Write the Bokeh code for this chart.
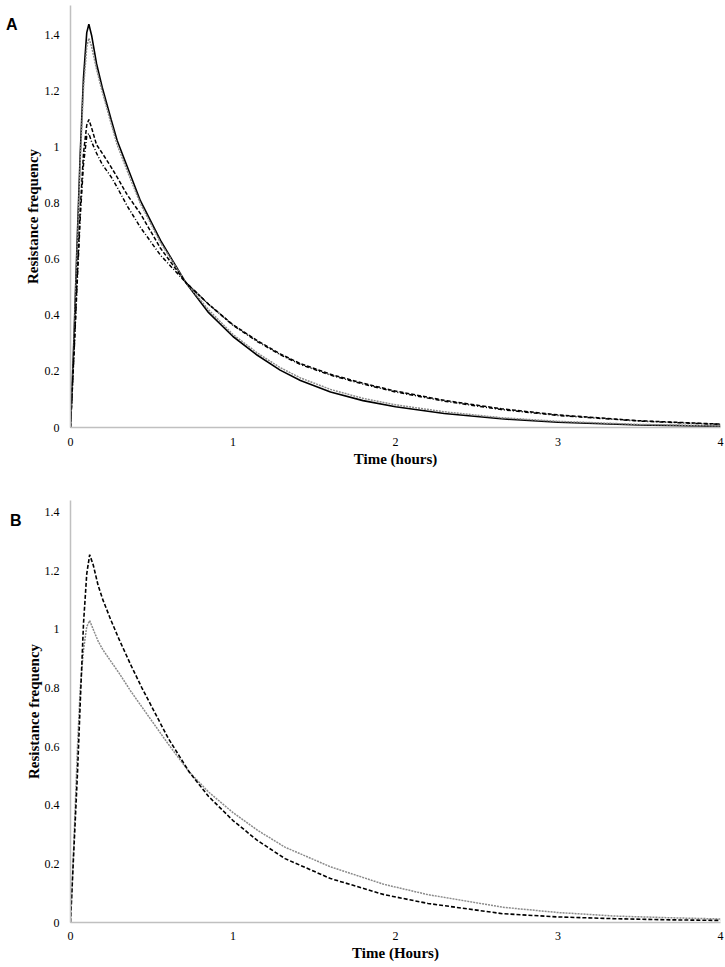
from bokeh.plotting import figure
from bokeh.models import Range1d, FixedTicker, CustomJSTickFormatter, LinearAxis
from bokeh.layouts import column
from bokeh.embed import file_html
from bokeh.resources import INLINE

# ---- data ----
x_ticks = [0, 1, 2, 3, 4]
y_ticks = [0, 0.2, 0.4, 0.6, 0.8, 1.0, 1.2, 1.4]
panel_letters = ["A", "B"]
panel_letter_y = [1.44, 1.372]

tA = [0, 0.02, 0.04, 0.06, 0.08, 0.1, 0.113, 0.13, 0.16, 0.195, 0.25, 0.287, 0.35, 0.43,
      0.554, 0.708, 0.85, 1.0, 1.15, 1.29, 1.415, 1.6, 1.8, 2.0, 2.3, 2.65, 3.0, 3.5, 4.0]
a_solid = [0, 0.30, 0.65, 0.98, 1.25, 1.41, 1.44, 1.40, 1.30, 1.215, 1.10, 1.025, 0.93, 0.81,
           0.668, 0.519, 0.41, 0.325, 0.258, 0.205, 0.168, 0.127, 0.096, 0.074, 0.05, 0.031, 0.019, 0.009, 0.004]
a_gray = [0, 0.28, 0.62, 0.95, 1.21, 1.36, 1.39, 1.36, 1.28, 1.20, 1.085, 1.01, 0.915, 0.80,
          0.66, 0.519, 0.42, 0.332, 0.266, 0.214, 0.177, 0.136, 0.104, 0.081, 0.056, 0.035, 0.022, 0.011, 0.006]
a_dash = [0, 0.25, 0.52, 0.78, 0.98, 1.08, 1.10, 1.07, 1.01, 0.98, 0.93, 0.894, 0.83, 0.764,
          0.64, 0.519, 0.44, 0.367, 0.31, 0.263, 0.228, 0.19, 0.158, 0.13, 0.097, 0.067, 0.045, 0.024, 0.012]
a_dashdot = [0, 0.24, 0.50, 0.75, 0.94, 1.04, 1.05, 1.02, 0.98, 0.94, 0.895, 0.858, 0.79, 0.715,
             0.615, 0.519, 0.44, 0.365, 0.307, 0.26, 0.225, 0.187, 0.155, 0.127, 0.094, 0.064, 0.043, 0.023, 0.011]

tB = [0, 0.02, 0.043, 0.06, 0.08, 0.1, 0.118, 0.14, 0.17, 0.2, 0.25, 0.3, 0.37, 0.44,
      0.6, 0.73, 0.85, 1.0, 1.15, 1.32, 1.6, 1.93, 2.2, 2.66, 3.0, 3.35, 3.7, 4.0]
b_dash = [0, 0.24, 0.51, 0.75, 1.02, 1.19, 1.255, 1.22, 1.15, 1.10, 1.03, 0.965, 0.88, 0.80,
          0.63, 0.514, 0.43, 0.348, 0.28, 0.218, 0.15, 0.095, 0.065, 0.03, 0.019, 0.013, 0.009, 0.007]
b_gray = [0, 0.26, 0.60, 0.80, 0.93, 1.01, 1.03, 1.00, 0.96, 0.93, 0.89, 0.85, 0.79, 0.735,
          0.61, 0.514, 0.445, 0.375, 0.315, 0.257, 0.19, 0.13, 0.095, 0.052, 0.034, 0.022, 0.016, 0.012]

SERIF = "Liberation Serif"
AXIS_COLOR = "#c0c0c0"


def make_fig(height, ml, mt, mb, ymax, xlabel, ylab_standoff, x_std, xlab_std):
    p = figure(width=725, height=height, output_backend="svg", toolbar_location=None,
               x_range=Range1d(0, 4), y_range=Range1d(0, ymax),
               min_border_left=ml, min_border_right=5, min_border_top=mt, min_border_bottom=mb)
    p.outline_line_color = None
    p.xgrid.grid_line_color = None
    p.ygrid.grid_line_color = None
    p.background_fill_color = "white"
    p.border_fill_color = "white"
    fmt = CustomJSTickFormatter(code="return (Math.round(tick*10)/10).toString();")
    xa = p.xaxis[0]
    ya = p.yaxis[0]
    xa.ticker = FixedTicker(ticks=x_ticks)
    ya.ticker = FixedTicker(ticks=y_ticks)
    xa.formatter = fmt
    ya.formatter = fmt
    for ax in (xa, ya):
        ax.axis_line_color = AXIS_COLOR
        ax.axis_line_width = 1.5
        ax.major_tick_line_color = None
        ax.minor_tick_line_color = None
        ax.major_tick_out = 0
        ax.major_tick_in = 0
        ax.minor_tick_out = 0
        ax.major_label_text_font = SERIF
        ax.major_label_text_font_size = "12px"
        ax.major_label_text_color = "black"
        ax.axis_label_text_font = SERIF
        ax.axis_label_text_font_style = "bold"
        ax.axis_label_text_font_size = "15px"
        ax.axis_label_text_color = "black"
    ya.axis_label = "Resistance frequency"
    ya.major_label_standoff = 11
    ya.axis_label_standoff = ylab_standoff
    xa.axis_label = xlabel
    xa.major_label_standoff = x_std
    xa.axis_label_standoff = xlab_std
    return p


def add_letter(p, letter, y, standoff):
    ax = LinearAxis(ticker=FixedTicker(ticks=[y]),
                    formatter=CustomJSTickFormatter(code="return '%s';" % letter))
    ax.axis_line_color = None
    ax.major_tick_line_color = None
    ax.minor_tick_line_color = None
    ax.major_tick_out = 0
    ax.major_tick_in = 0
    ax.minor_tick_out = 0
    ax.major_label_standoff = standoff
    ax.major_label_text_font = "Liberation Sans"
    ax.major_label_text_font_style = "bold"
    ax.major_label_text_font_size = "16px"
    ax.major_label_text_color = "black"
    p.add_layout(ax, "left")


# Panel A: frame 5..427 px, x 70..720 px
pA = make_fig(482, 70, 5, 55, 1.507, "Time (hours)", 1, 10, 2)
pA.line(tA, a_solid, line_color="black", line_width=1.6)
pA.line(tA, a_gray, line_color="#8a8a8a", line_width=1.5, line_dash="2 1")
pA.line(tA, a_dash, line_color="black", line_width=1.5, line_dash="4 2")
pA.line(tA, a_dashdot, line_color="black", line_width=1.5, line_dash="4 2 1 2")
add_letter(pA, panel_letters[0], panel_letter_y[0], 4)

# Panel B: frame 500..922 px (page), x 63..720 px
pB = make_fig(485, 63, 18, 45, 1.44, "Time (Hours)", 0, 9, 2)
pB.line(tB, b_gray, line_color="#8a8a8a", line_width=1.5, line_dash="2 1")
pB.line(tB, b_dash, line_color="black", line_width=1.6, line_dash="4 2")
add_letter(pB, panel_letters[1], panel_letter_y[1], 1)

layout = column(pA, pB, spacing=0)
open("out.html", "w").write(file_html(layout, INLINE))
